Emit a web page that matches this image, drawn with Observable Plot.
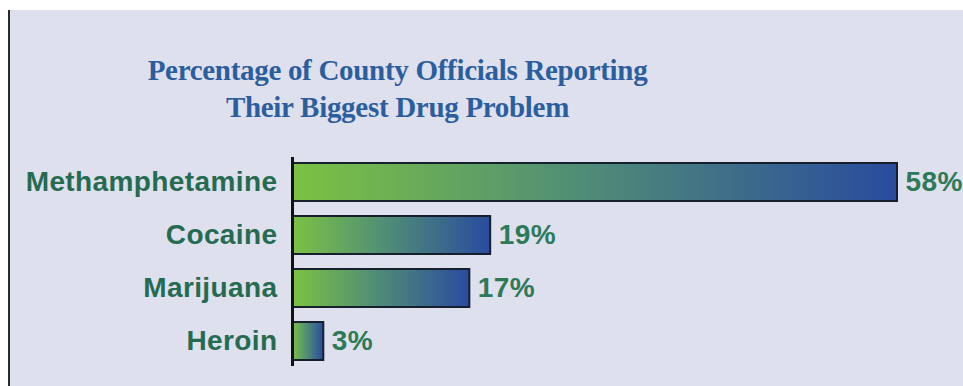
<!DOCTYPE html>
<html><head><meta charset="utf-8">
<script src="https://cdn.jsdelivr.net/npm/d3@7"></script>
<script src="https://cdn.jsdelivr.net/npm/@observablehq/plot@0.6"></script>
<style>
html,body{margin:0;padding:0;background:#fff;width:963px;height:386px;overflow:hidden;}
#frame{position:absolute;left:8px;top:10px;width:955px;height:376px;background:#dfe0ee;border-left:2px solid #2a2a2a;}
#title{position:absolute;left:0;top:52px;width:795px;text-align:center;font-family:"Liberation Serif",serif;font-weight:bold;font-size:29px;line-height:37px;color:#2b5e9e;letter-spacing:-0.3px;}
#chart{position:absolute;left:0;top:150px;}
#chart text{letter-spacing:0.4px;}
</style></head>
<body>
<div id="frame"></div>
<div id="title">Percentage of County Officials Reporting<br>Their Biggest Drug Problem</div>
<div id="chart"></div>
<script>
const drugs = ["Methamphetamine", "Cocaine", "Marijuana", "Heroin"];
const percents = [58, 19, 17, 3];
const data = drugs.map((d, i) => ({drug: d, value: percents[i]}));

const plot = Plot.plot({
  width: 963,
  height: 226,
  marginLeft: 292,
  marginRight: 66,
  marginTop: 7,
  marginBottom: 10,
  style: {background: "transparent", overflow: "visible"},
  x: {domain: [0, d3.max(percents)], axis: null},
  y: {domain: drugs, paddingInner: 0.29, paddingOuter: 0.11, label: null},
  marks: [
    () => {
      const svg = d3.create("svg:defs");
      const g = svg.append("linearGradient").attr("id", "barGrad")
        .attr("x1", "0").attr("x2", "1").attr("y1", "0").attr("y2", "0");
      g.append("stop").attr("offset", "0%").attr("stop-color", "#7cc242");
      g.append("stop").attr("offset", "45%").attr("stop-color", "#529074");
      g.append("stop").attr("offset", "100%").attr("stop-color", "#2a4b9f");
      return svg.node();
    },
    Plot.barX(data, {x: "value", y: "drug", fill: "url(#barGrad)", stroke: "#16202c", strokeWidth: 2}),
    Plot.ruleX([0], {stroke: "#111", strokeWidth: 3}),
    Plot.axisY({tickSize: 0, tickPadding: 15, fontSize: 28, fontWeight: "bold", fill: "#256b50", fontFamily: "Liberation Sans, Arial, sans-serif", label: null}),
    Plot.text(data, {x: "value", y: "drug", text: d => d.value + "%", dx: 8, textAnchor: "start", fontSize: 28, fontWeight: "bold", fill: "#2c7a58", fontFamily: "Liberation Sans, Arial, sans-serif"})
  ]
});
document.getElementById("chart").appendChild(plot);
</script>
</body></html>
